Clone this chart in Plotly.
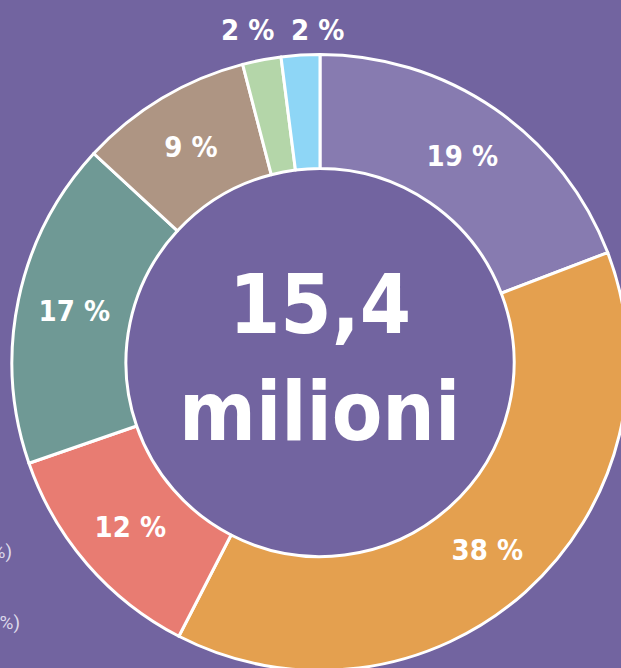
import plotly.graph_objects as go

# Data
categories = ["A", "B", "C", "D", "E", "F", "G"]
shares = [19, 38, 12, 17, 9, 2, 2]
colors = ["#877bb0", "#e4a04f", "#e87c72", "#6f9995", "#ae9583", "#b4d6a9", "#8ed6f6"]
center_value = "15,4"
center_unit = "milioni"
legend_tails = ["(12 %)", "(17 %)"]

BG = "#7264a0"
W, H = 640, 690
FONT = "DejaVu Sans Condensed, sans-serif"

def px_x(p):
    return p / W

def px_y(p):
    return 1 - p / H

inside = [s >= 5 for s in shares]

fig = go.Figure()
fig.add_trace(go.Pie(
    labels=categories,
    values=shares,
    sort=False,
    direction="clockwise",
    rotation=0,
    hole=0.63,
    marker=dict(colors=colors, line=dict(color="white", width=3)),
    texttemplate=["%{value} %" if i else "" for i in inside],
    textposition="inside",
    insidetextorientation="horizontal",
    textfont=dict(family=FONT, size=29, color="white", weight="bold"),
    showlegend=False,
    domain=dict(x=[px_x(12), px_x(628)], y=[px_y(670.5), px_y(54.5)]),
    hoverinfo="skip",
))

# labels of the two small slices, above the ring
for s, xc in zip([v for v, i in zip(shares, inside) if not i], [247, 317]):
    fig.add_annotation(text=f"{s} %", x=px_x(xc), y=px_y(30), xref="paper", yref="paper",
                       xanchor="center", yanchor="middle", showarrow=False,
                       font=dict(family=FONT, size=29, color="white", weight="bold"))

fig.add_annotation(text=center_value, x=px_x(320), y=px_y(304), xref="paper", yref="paper",
                   xanchor="center", yanchor="middle", showarrow=False,
                   font=dict(family=FONT, size=82, color="white", weight="bold"))
fig.add_annotation(text=center_unit, x=px_x(319), y=px_y(411), xref="paper", yref="paper",
                   xanchor="center", yanchor="middle", showarrow=False,
                   font=dict(family=FONT, size=82, color="white", weight="bold"))

for txt, xr, yc in zip(legend_tails, [14, 22], [551, 622]):
    fig.add_annotation(text=txt, x=px_x(xr), y=px_y(yc), xref="paper", yref="paper",
                       xanchor="right", yanchor="middle", showarrow=False,
                       font=dict(family="Roboto", size=19, color="#dcd8ea"))

fig.update_layout(
    width=W, height=H,
    margin=dict(l=0, r=0, t=0, b=0),
    paper_bgcolor=BG, plot_bgcolor=BG,
)

fig.write_html("out.html", config={"displayModeBar": False}, post_script=(
    "document.body.style.margin='0';"
    "document.body.style.overflow='hidden';"
    "document.documentElement.style.overflow='hidden';"
    "document.body.style.background='" + BG + "';"
))
